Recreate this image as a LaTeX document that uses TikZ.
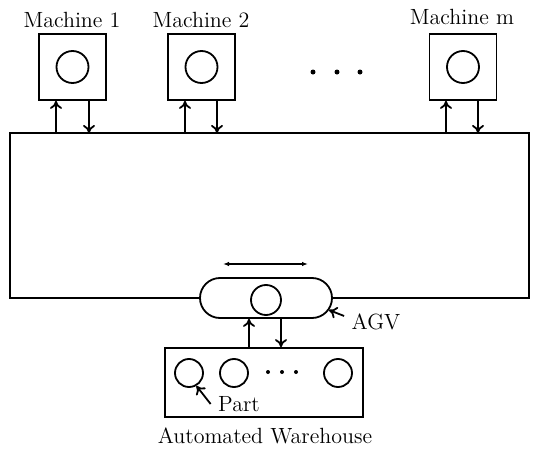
\documentclass[tikz,border=0pt]{standalone}
\usepackage{tikz}
\usetikzlibrary{calc, positioning, arrows.meta}

\begin{document}
\begin{tikzpicture}[x=0.5pt, y=-0.5pt, line width=0.9pt, font=\fontsize{11}{13}\selectfont,
    machine/.style={draw, minimum width=33.5pt, minimum height=33pt, inner sep=0pt},
    slot/.style={draw, circle, minimum size=16pt, inner sep=0pt},
    part/.style={draw, circle, minimum size=14pt, inner sep=0pt},
    flow/.style={-{To[length=4pt, width=6pt]}}]
    \useasboundingbox (0,0) rectangle (537,450);

    % Machines
    \node[machine] (m1) at (72.5,67) {};
    \node[machine] (m2) at (201.5,67) {};
    \node[machine] (mm) at (463,67) {};
    \node[slot] (s1) at (m1) {};
    \node[slot] (s2) at (m2) {};
    \node[slot] (sm) at (mm) {};
    \node (lbl1) at (72,20) {Machine 1};
    \node (lbl2) at (201,20) {Machine 2};
    \node (lblm) at (462,17) {Machine m};
    \foreach \x in {313,337,360}
        \fill (\x,72) circle (2.5);

    % AGV
    \node[draw, minimum width=66pt, minimum height=20pt, rounded corners=10pt] (agv) at (266,298) {};
    \node[draw, circle, minimum size=15pt, inner sep=0pt] (wheel) at (266,300) {};
    \coordinate (movel) at (223,264);
    \coordinate (mover) at (308,264);
    \draw[{Latex[length=3pt]}-{Latex[length=3pt]}] (movel) -- (mover);
    \node (agvlbl) at (376,322) {AGV};
    \coordinate (agvedge) at ($(agv.east)+(-4,12)$);
    \draw[flow] ($(agvlbl.west)+(0,-6)$) -- (agvedge);

    % Track loop
    \draw (agv.west) -- (10,298) -- (10,133) -- (529,133) -- (529,298) -- (agv.east);

    % Load / unload at the machines
    \coordinate (r1u) at (56,133);
    \coordinate (r1d) at (89,133);
    \coordinate (r2u) at (185,133);
    \coordinate (r2d) at (217,133);
    \coordinate (rmu) at (446,133);
    \coordinate (rmd) at (478,133);
    \draw[flow] (r1u) -- (r1u |- m1.south);
    \draw[flow] (r1d |- m1.south) -- (r1d);
    \draw[flow] (r2u) -- (r2u |- m2.south);
    \draw[flow] (r2d |- m2.south) -- (r2d);
    \draw[flow] (rmu) -- (rmu |- mm.south);
    \draw[flow] (rmd |- mm.south) -- (rmd);

    % Warehouse
    \node[draw, minimum width=99pt, minimum height=34.5pt, inner sep=0pt] (wh) at (264,382.5) {};
    \node[part] (p1) at (189,373) {};
    \node[part] (p2) at (234,373) {};
    \node[part] (p3) at (338,373) {};
    \foreach \x in {268,282,296}
        \fill (\x,372) circle (2);
    \node (partlbl) at (239,404) {Part};
    \draw[flow] (partlbl.west) -- (p1.-60);
    \node (whlbl) at (265,436) {Automated Warehouse};

    % AGV <-> warehouse
    \coordinate (wu) at (249,0);
    \coordinate (wd) at (281,0);
    \draw[flow] (wu |- wh.north) -- (wu |- agv.south);
    \draw[flow] (wd |- agv.south) -- (wd |- wh.north);
\end{tikzpicture}
\end{document}
